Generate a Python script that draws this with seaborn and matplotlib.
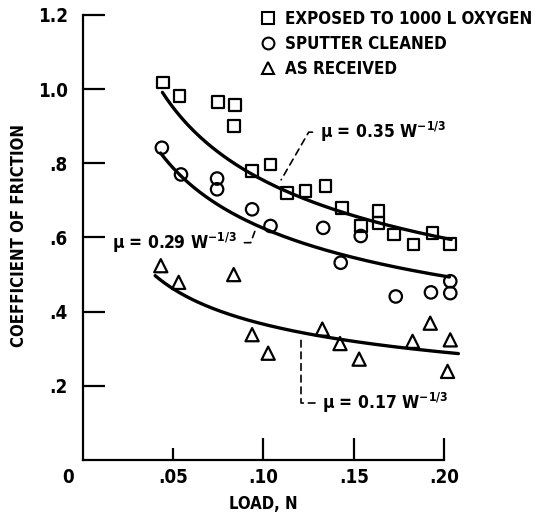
import numpy as np
import pandas as pd
import matplotlib
matplotlib.use("Agg")
import matplotlib.pyplot as plt
import seaborn as sns
from matplotlib.lines import Line2D
from matplotlib import font_manager as fm

# ---------------- data ----------------
series_names = ["EXPOSED TO 1000 L OXYGEN", "SPUTTER CLEANED", "AS RECEIVED"]
series_markers = ["s", "o", "^"]

exposed_load = [0.0443, 0.0535, 0.0746, 0.0844, 0.0835, 0.0937, 0.1039, 0.1131,
                0.1233, 0.1344, 0.1437, 0.1539, 0.1637, 0.1637, 0.1724, 0.1831,
                0.1937, 0.2035]
exposed_mu = [1.018, 0.982, 0.966, 0.958, 0.901, 0.779, 0.797, 0.721,
              0.725, 0.739, 0.680, 0.631, 0.671, 0.640, 0.608, 0.581,
              0.613, 0.583]

sputter_load = [0.0437, 0.0543, 0.0743, 0.0743, 0.0937, 0.1039, 0.1331, 0.1539,
                0.1428, 0.1733, 0.1928, 0.2035, 0.2035]
sputter_mu = [0.842, 0.770, 0.759, 0.730, 0.676, 0.631, 0.626, 0.604,
              0.532, 0.441, 0.452, 0.482, 0.450]

received_load = [0.0431, 0.0530, 0.0835, 0.0937, 0.1026, 0.1326, 0.1424, 0.1530,
                 0.1826, 0.1924, 0.2035, 0.2020]
received_mu = [0.524, 0.479, 0.500, 0.338, 0.288, 0.353, 0.314, 0.272,
               0.320, 0.369, 0.324, 0.239]

# fitted curves  mu = k * W^(-1/3)
fit_coeff = [0.35, 0.29, 0.17]
fit_exponent = -1.0 / 3.0
fit_load_start = [0.044, 0.043, 0.040]
fit_load_end = [0.204, 0.203, 0.208]
fit_coeff_text = ["0.35", "0.29", "0.17"]

x_ticks = [0.05, 0.10, 0.15, 0.20]
x_tick_labels = [".05", ".10", ".15", ".20"]
y_ticks = [0.2, 0.4, 0.6, 0.8, 1.0, 1.2]
y_tick_labels = [".2", ".4", ".6", ".8", "1.0", "1.2"]
x_label = "LOAD, N"
y_label = "COEFFICIENT OF FRICTION"

# ---------------- style ----------------
sns.set_theme(style="ticks")

_entries = fm.fontManager.ttflist
_names = {f.name for f in _entries}
if "Liberation Sans Narrow" in _names:
    FONT, STRETCH = ["Liberation Sans Narrow", "DejaVu Sans"], "normal"
elif any(f.name == "DejaVu Sans" and str(f.stretch) in ("condensed", "semi-condensed")
         for f in _entries):
    FONT, STRETCH = ["DejaVu Sans"], "condensed"
else:
    FONT, STRETCH = ["Liberation Sans", "DejaVu Sans"], "normal"

plt.rcParams["font.family"] = FONT
plt.rcParams["font.weight"] = "bold"
plt.rcParams["font.stretch"] = STRETCH
plt.rcParams["mathtext.fontset"] = "custom"
plt.rcParams["mathtext.rm"] = FONT[0] + ":bold"
plt.rcParams["mathtext.it"] = FONT[0] + ":bold"
plt.rcParams["mathtext.bf"] = FONT[0] + ":bold"
plt.rcParams["axes.unicode_minus"] = True
for key in ("text.color", "axes.labelcolor", "xtick.color", "ytick.color",
            "axes.edgecolor"):
    plt.rcParams[key] = "black"

fig = plt.figure(figsize=(5.35, 5.16), dpi=100)
fig.patch.set_facecolor("white")
ax = fig.add_axes([83 / 535, 1 - 460 / 516, 379 / 535, 445 / 516])
ax.set_facecolor("white")

frames = []
for name, xs, ys in zip(series_names,
                        [exposed_load, sputter_load, received_load],
                        [exposed_mu, sputter_mu, received_mu]):
    frames.append(pd.DataFrame({"load": xs, "mu": ys, "treatment": name}))
points = pd.concat(frames, ignore_index=True)

sizes = {"s": 72, "o": 80, "^": 90}
for name, mk in zip(series_names, series_markers):
    sub = points[points["treatment"] == name]
    sns.scatterplot(data=sub, x="load", y="mu", marker=mk, s=sizes[mk],
                    facecolor="none", edgecolor="black", linewidth=1.6,
                    ax=ax, legend=False, zorder=3)

curve_frames = []
for k, a, b in zip(fit_coeff, fit_load_start, fit_load_end):
    w = np.linspace(a, b, 200)
    curve_frames.append(pd.DataFrame({"load": w, "mu": k * w ** fit_exponent,
                                      "fit": str(k)}))
curves = pd.concat(curve_frames, ignore_index=True)
sns.lineplot(data=curves, x="load", y="mu", units="fit", estimator=None,
             color="black", linewidth=2.4, ax=ax, legend=False, zorder=2)

# ---------------- annotations ----------------
dash = dict(arrowstyle="-", color="black", linewidth=1.2, linestyle=(0, (4, 3)))


def fit_at(i, w):
    return fit_coeff[i] * w ** fit_exponent


txt_fs = 12.5
w0 = 0.1075
ax.annotate("μ = " + fit_coeff_text[0] + " W$^{-1/3}$",
            xy=(w0, fit_at(0, w0)), xytext=(0.1313, 0.884),
            ha="left", va="center", fontsize=txt_fs, fontweight="bold",
            arrowprops=dict(dash, relpos=(0, 0.5), shrinkA=3, shrinkB=6,
                            connectionstyle="angle,angleA=0,angleB=60,rad=0"))
w1 = 0.0964
ax.annotate("μ = " + fit_coeff_text[1] + " W$^{-1/3}$",
            xy=(w1, fit_at(1, w1)), xytext=(0.0853, 0.586),
            ha="right", va="center", fontsize=txt_fs, fontweight="bold",
            arrowprops=dict(dash, relpos=(1, 0.5), shrinkA=3, shrinkB=4,
                            connectionstyle="angle,angleA=0,angleB=70,rad=0"))
w2 = 0.1208
ax.annotate("μ = " + fit_coeff_text[2] + " W$^{-1/3}$",
            xy=(w2, fit_at(2, w2)), xytext=(0.1324, 0.154),
            ha="left", va="center", fontsize=txt_fs, fontweight="bold",
            arrowprops=dict(dash, relpos=(0, 0.5), shrinkA=3, shrinkB=5,
                            connectionstyle="angle,angleA=0,angleB=90,rad=0"))

# ---------------- axes ----------------
ax.set_xlim(0, 0.21)
ax.set_ylim(0, 1.2)
sns.despine(ax=ax)
for side in ("left", "bottom"):
    ax.spines[side].set_linewidth(1.6)
    ax.spines[side].set_color("black")
ax.spines["bottom"].set_bounds(0, 0.2)

ax.set_xticks(x_ticks)
ax.set_xticklabels(x_tick_labels)
ax.set_yticks(y_ticks)
ax.set_yticklabels(y_tick_labels)
ax.tick_params(axis="both", direction="in", length=16, width=1.6,
               color="black", labelcolor="black", labelsize=13.5)
ax.tick_params(axis="x", pad=6)
ax.tick_params(axis="y", pad=11)
for lab in ax.get_xticklabels() + ax.get_yticklabels():
    lab.set_fontweight("bold")
ax.xaxis.get_major_ticks()[0].tick1line.set_markersize(9)

ax.annotate("0", xy=(0, 0), xytext=(-11, -12.5), textcoords="offset points",
            ha="center", va="center", fontsize=13.5, fontweight="bold")

ax.set_xlabel(x_label, fontsize=12, fontweight="bold")
ax.xaxis.set_label_coords((263 - 83) / 379, -0.078)
ax.set_ylabel(y_label, fontsize=12, fontweight="bold")
ax.yaxis.set_label_coords(-0.145, 0.505)

# ---------------- legend ----------------
handles = [Line2D([], [], marker=mk, linestyle="none", markerfacecolor="none",
                  markeredgecolor="black", markeredgewidth=1.5,
                  markersize=8.5) for mk in series_markers]
leg = fig.legend(handles, series_names, loc="upper left",
                 bbox_to_anchor=(260 / 535, 1 - 10 / 516), frameon=False,
                 handlelength=1.0, handletextpad=0.45, borderpad=0,
                 borderaxespad=0, labelspacing=0.4,
                 prop=dict(family=FONT, weight="bold", size=12.2, stretch=STRETCH))

fig.savefig("out.png", dpi=100, facecolor="white")
